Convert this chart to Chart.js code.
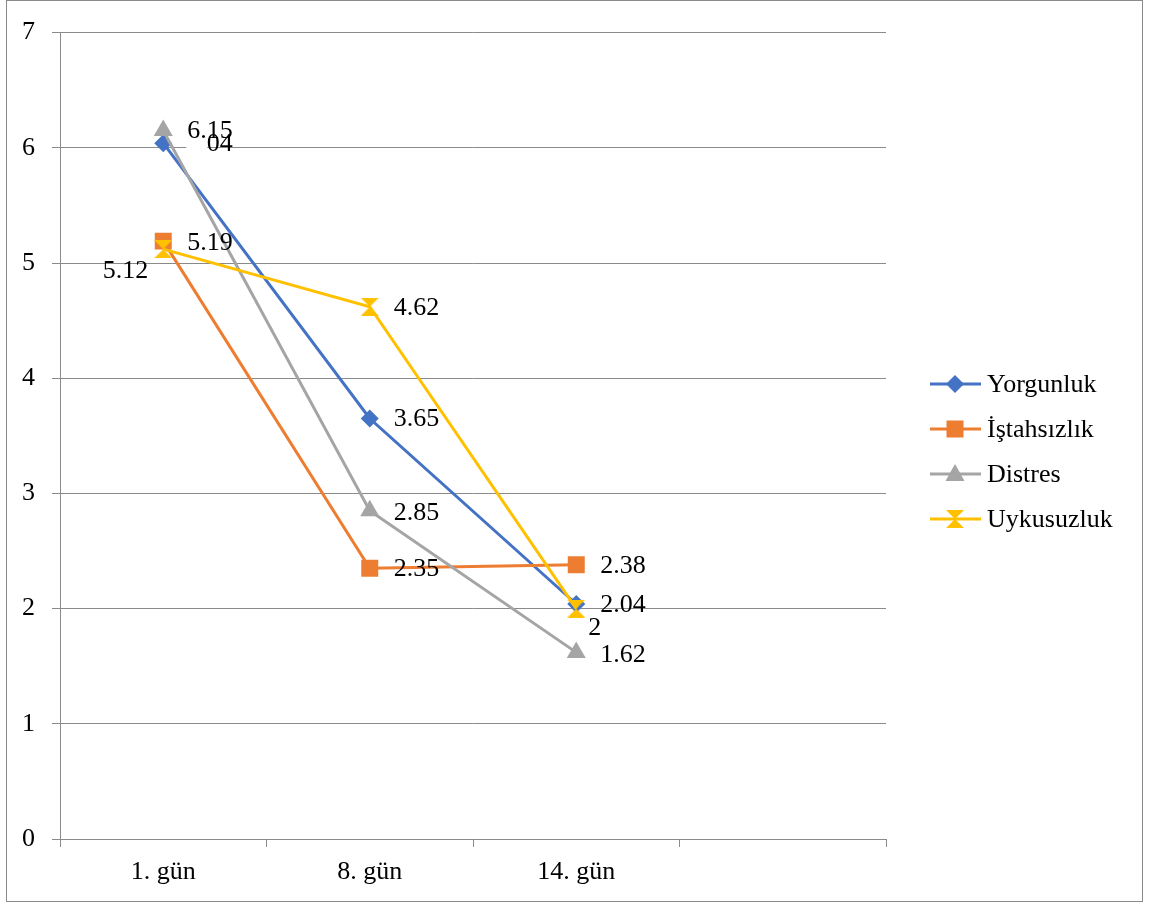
<!DOCTYPE html>
<html>
<head>
<meta charset="utf-8">
<script src="https://cdn.jsdelivr.net/npm/chart.js@4/dist/chart.umd.min.js"></script>
<style>
  html, body { margin: 0; padding: 0; background: #fff; }
  #wrap { position: relative; width: 1149px; height: 904px; }
</style>
</head>
<body>
<div id="wrap"><canvas id="c" width="1149" height="904"></canvas></div>
<script>
// ---- data ----
const categories = ['1. gün', '8. gün', '14. gün', ''];
const seriesNames = ['Yorgunluk', 'İştahsızlık', 'Distres', 'Uykusuzluk'];
const yorgunluk = [6.04, 3.65, 2.04];
const istahsizlik = [5.19, 2.35, 2.38];
const distres = [6.15, 2.85, 1.62];
const uykusuzluk = [5.12, 4.62, 2];
const yTicks = [0, 1, 2, 3, 4, 5, 6, 7];

// ---- styles ----
const colors = ['#4472C4', '#ED7D31', '#A5A5A5', '#FFC000'];
const FONT = "'Liberation Serif', 'Times New Roman', serif";
const FS = 26;
const GRID = '#8a8a8a';

function hourglass(size, color) {
  const cv = document.createElement('canvas');
  cv.width = size; cv.height = size;
  const g = cv.getContext('2d');
  g.fillStyle = color;
  g.beginPath();
  g.moveTo(0, 0); g.lineTo(size, 0); g.lineTo(size / 2, size / 2);
  g.lineTo(size, size); g.lineTo(0, size); g.lineTo(size / 2, size / 2);
  g.closePath(); g.fill();
  return cv;
}
const hg = hourglass(18, colors[3]);

const pointStyles = ['rectRot', 'rect', 'triangle', hg];
const pointRadii = [9, 12, 11, 9];

// label placements (offsets from point, per series / per point)
const labelPos = [
  [{dx: 24, dy: 1}, {dx: 24, dy: 1}, {dx: 24, dy: 1}],
  [{dx: 24, dy: 2}, {dx: 24, dy: 1}, {dx: 24, dy: 1}],
  [{dx: 24, dy: 1, mask: true}, {dx: 24, dy: 2}, {dx: 24, dy: 3}],
  [{dx: -15, dy: 22, align: 'right'}, {dx: 24, dy: 1}, {dx: 12, dy: 20}]
];

const allSeries = [yorgunluk, istahsizlik, distres, uykusuzluk];

const datasets = allSeries.map((vals, i) => ({
  label: seriesNames[i],
  data: vals,
  borderColor: colors[i],
  backgroundColor: colors[i],
  borderWidth: 3,
  pointStyle: pointStyles[i],
  pointRadius: pointRadii[i],
  pointHoverRadius: pointRadii[i],
  pointBorderWidth: 0,
  pointBorderColor: colors[i],
  pointBackgroundColor: colors[i],
  tension: 0,
  order: allSeries.length - i
}));

const frameAndLegend = {
  id: 'frameAndLegend',
  beforeDraw(chart) {
    const ctx = chart.ctx;
    ctx.save();
    ctx.fillStyle = '#fff';
    ctx.fillRect(0, 0, chart.width, chart.height);
    ctx.strokeStyle = GRID;
    ctx.lineWidth = 1;
    ctx.strokeRect(6.5, 0.5, 1136, 901);
    ctx.restore();
  },
  afterDraw(chart) {
    const ctx = chart.ctx;
    ctx.save();
    const ys = [384, 429, 474, 519];
    seriesNames.forEach((name, i) => {
      const y = ys[i];
      ctx.strokeStyle = colors[i];
      ctx.lineWidth = 3;
      ctx.beginPath(); ctx.moveTo(930, y); ctx.lineTo(981, y); ctx.stroke();
      ctx.fillStyle = colors[i];
      const x = 955;
      if (i === 0) {
        ctx.beginPath(); ctx.moveTo(x - 9, y); ctx.lineTo(x, y - 9); ctx.lineTo(x + 9, y); ctx.lineTo(x, y + 9); ctx.closePath(); ctx.fill();
      } else if (i === 1) {
        ctx.fillRect(x - 8.5, y - 8.5, 17, 17);
      } else if (i === 2) {
        ctx.beginPath(); ctx.moveTo(x, y - 10); ctx.lineTo(x + 9.5, y + 7); ctx.lineTo(x - 9.5, y + 7); ctx.closePath(); ctx.fill();
      } else {
        ctx.drawImage(hg, x - 9, y - 9, 18, 18);
      }
      ctx.fillStyle = '#000';
      ctx.font = FS + 'px ' + FONT;
      ctx.textBaseline = 'middle';
      ctx.textAlign = 'left';
      ctx.fillText(name, 987, y + 1);
    });
    ctx.restore();
  },
  afterDatasetsDraw(chart) {
    const ctx = chart.ctx;
    ctx.save();
    ctx.font = FS + 'px ' + FONT;
    ctx.textBaseline = 'middle';
    chart.data.datasets.forEach((ds, i) => {
      const meta = chart.getDatasetMeta(i);
      meta.data.forEach((pt, j) => {
        const p = labelPos[i][j];
        const x = pt.x + p.dx, y = pt.y + p.dy;
        if (p.mask) {
          ctx.fillStyle = '#fff';
          ctx.fillRect(x - 1, y + 2, 21, 23);
        }
        ctx.fillStyle = '#000';
        ctx.textAlign = p.align || 'left';
        ctx.fillText(String(ds.data[j]), x, y);
      });
    });
    ctx.restore();
  }
};

new Chart(document.getElementById('c'), {
  type: 'line',
  data: { labels: categories, datasets },
  options: {
    responsive: false,
    animation: false,
    devicePixelRatio: 1,
    layout: { padding: { top: 26, right: 263, left: 0, bottom: 0 } },
    plugins: { legend: { display: false }, tooltip: { enabled: false } },
    scales: {
      x: {
        type: 'category',
        offset: true,
        grid: { display: true, offset: true, drawOnChartArea: false, drawTicks: true, tickLength: 8, color: GRID, lineWidth: 1 },
        border: { display: true, color: GRID, width: 1 },
        ticks: { color: '#000', font: { family: FONT, size: FS }, padding: 10, maxRotation: 0, autoSkip: false },
        afterFit(s) { s.height = 65; }
      },
      y: {
        min: yTicks[0],
        max: yTicks[yTicks.length - 1],
        afterBuildTicks(s) { s.ticks = yTicks.map(v => ({ value: v })); },
        grid: { color: GRID, lineWidth: 1, tickLength: 8, drawTicks: true },
        border: { display: true, color: GRID, width: 1 },
        ticks: { color: '#000', font: { family: FONT, size: FS }, padding: 17 },
        afterFit(s) { s.width = 60; }
      }
    }
  },
  plugins: [frameAndLegend]
});
</script>
</body>
</html>
